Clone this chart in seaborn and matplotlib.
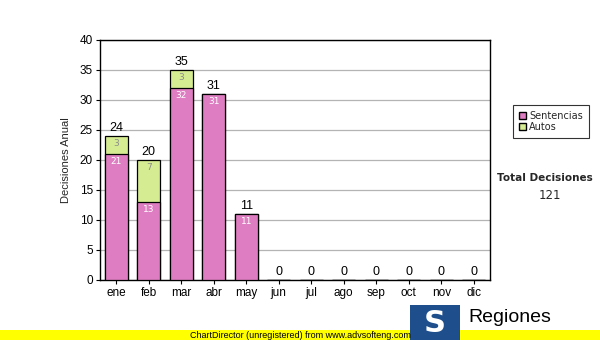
import matplotlib
matplotlib.use("Agg")
import matplotlib.pyplot as plt
import seaborn as sns
import pandas as pd
from matplotlib.patches import Rectangle, Patch

months = ["ene", "feb", "mar", "abr", "may", "jun", "jul", "ago", "sep", "oct", "nov", "dic"]
sentencias = [21, 13, 32, 31, 11, 0, 0, 0, 0, 0, 0, 0]
autos = [3, 7, 3, 0, 0, 0, 0, 0, 0, 0, 0, 0]
y_ticks = [0, 5, 10, 15, 20, 25, 30, 35, 40]

totals = [s + a for s, a in zip(sentencias, autos)]
df = pd.DataFrame({"mes": months, "Sentencias": sentencias, "Autos": autos, "Total": totals})

sns.set_style("white")
plt.rcParams['font.family'] = ['Liberation Sans', 'DejaVu Sans']

PINK = "#DE7DC1"
GREEN = "#D6EC93"

fig = plt.figure(figsize=(6, 3.4), dpi=100)
ax = fig.add_axes([100/600, 60/340, 390/600, 240/340])
ax.set_facecolor("white")

ax.yaxis.grid(True, color="#B4B4B4", lw=0.9, zorder=1)
ax.set_axisbelow(True)

sns.barplot(data=df, x="mes", y="Total", color=GREEN, width=0.7, edgecolor="black",
            linewidth=0.9, ax=ax, saturation=1, zorder=2)
sns.barplot(data=df, x="mes", y="Sentencias", color=PINK, width=0.7, edgecolor="black",
            linewidth=0.9, ax=ax, saturation=1, zorder=3)

for i, (s, a, t) in enumerate(zip(sentencias, autos, totals)):
    ax.text(i, t + 0.3, str(t), ha="center", va="bottom", fontsize=9, color="black", zorder=5)
    if s > 0:
        ax.text(i, s - 0.5, str(s), ha="center", va="top", fontsize=6.5, color="white",
                zorder=5, family="DejaVu Sans")
    if a > 0:
        ax.text(i, t - 0.5, str(a), ha="center", va="top", fontsize=6.5, color="#8C8C8C",
                zorder=5, family="DejaVu Sans")

ax.set_ylim(0, 40)
ax.set_xlim(-0.5, 11.5)
ax.set_yticks(y_ticks)
ax.set_xlabel("")
ax.set_ylabel("Decisiones Anual", fontsize=8, labelpad=6)
ax.tick_params(axis="both", labelsize=8.5, length=3, direction="out", colors="black",
               bottom=True, left=True, pad=2)
for sp in ax.spines.values():
    sp.set_color("black")
    sp.set_linewidth(1)
    sp.set_visible(True)

# legend
handles = [Patch(facecolor=PINK, edgecolor="black", label="Sentencias"),
           Patch(facecolor=GREEN, edgecolor="black", label="Autos")]
leg = fig.legend(handles=handles, loc="upper left", bbox_to_anchor=(508/600, 1 - 100/340),
                 frameon=True, fancybox=False, edgecolor="black",
                 handlelength=0.8, handleheight=0.8, handletextpad=0.3, borderpad=0.6,
                 labelspacing=0.1, prop={"family": "DejaVu Sans", "size": 7})
leg.get_frame().set_linewidth(0.8)

fig.text(545/600, 1 - 178/340, "Total Decisiones", ha="center", va="center",
         fontsize=7.5, fontweight="bold", family="DejaVu Sans")
fig.text(550/600, 1 - 196/340, "121", ha="center", va="center", fontsize=8.5,
         family="DejaVu Sans")

# footer band
fig.patches.append(Rectangle((0, 0), 1, 10/340, transform=fig.transFigure,
                             facecolor="#FFFF00", edgecolor="none", zorder=0))
fig.text(300/600, 5/340, "ChartDirector (unregistered) from www.advsofteng.com",
         ha="center", va="center", fontsize=6.5, color="black")

# logo
fig.patches.append(Rectangle((410/600, 0), 50/600, 35/340, transform=fig.transFigure,
                             facecolor="#1F4E8C", edgecolor="none", zorder=1))
fig.text(435/600, 17/340, "S", ha="center", va="center", fontsize=22, fontweight="bold",
         color="white", family="DejaVu Sans", zorder=2)
fig.text(468/600, 22/340, "Regiones", ha="left", va="center", fontsize=14, color="black")

fig.savefig("out.png", dpi=100)
